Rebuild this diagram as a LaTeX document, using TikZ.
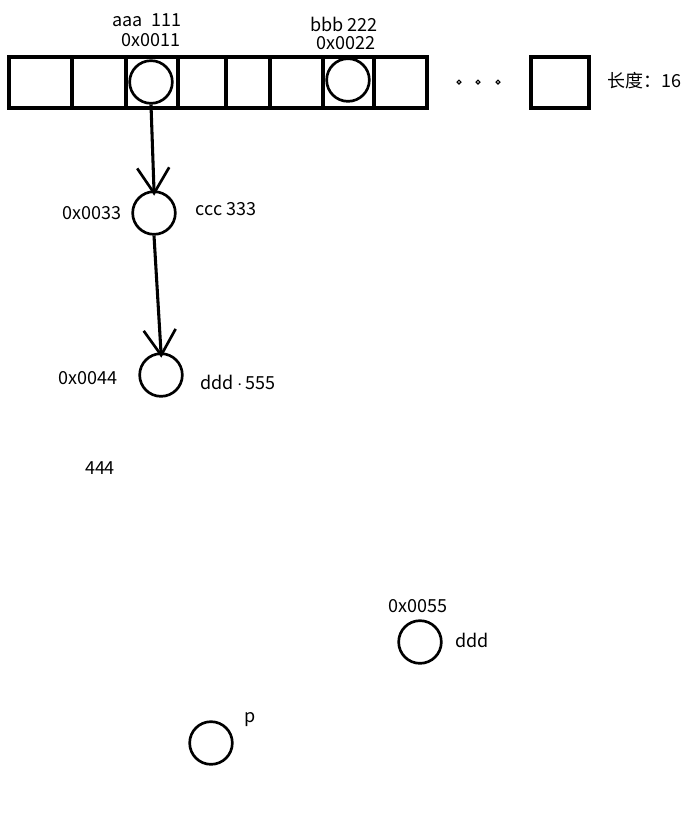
\documentclass[tikz,border=0pt]{standalone}
\usepackage{fontspec}
\setmainfont{Noto Sans CJK SC}
\usetikzlibrary{arrows.meta}
\begin{document}
\begin{tikzpicture}[x=0.75pt,y=-0.75pt,every node/.style={font=\fontsize{13.5}{15}\selectfont}]
\useasboundingbox (0,0) rectangle (698,819);
\tikzset{
  cell/.style={line width=2.5pt},
  slot/.style={circle,draw,line width=2pt,minimum size=32pt,inner sep=0pt},
  ptr/.style={line width=2.3pt,-{Straight Barb[length=19pt,width=24pt,line width=2pt]}}
}
% array
\begin{scope}
\draw[cell] (9,57) rectangle (427,108);
\foreach \xd in {72,126,178,226,270,323,374}
  \draw[cell] (\xd,57) -- (\xd,108);
\node[slot] (a) at (151,82) {};
\node[slot] (b) at (348,80) {};
\node at (147,20) {aaa\enspace111};
\node at (151,40) {0x0011};
\node at (344,24) {bbb 222};
\node at (346,43) {0x0022};
\foreach \xd in {459,478,498}
  \draw[line width=0.9pt] (\xd,82) circle (1.9);
\draw[cell] (531,57) rectangle (589,108);
\node[anchor=west] at (603,81) {长度：16};
\end{scope}
% linked nodes
\begin{scope}
\node[slot] (c) at (154,213) {};
\node[slot] (d) at (161,375) {};
\node at (92,213) {0x0033};
\node at (226,209) {ccc 333};
\node at (88,378) {0x0044};
\node at (238,382) {ddd\,$\cdot$\,555};
\node at (100,468) {444};
\draw[ptr,shorten >=-4pt] (a.south) -- (c.north);
\draw[ptr,shorten >=-4pt] (c.south) -- (d.north);
\end{scope}
% loose nodes
\begin{scope}
\node[slot] (e) at (420,642) {};
\node[slot] (p) at (211,743) {};
\node at (418,606) {0x0055};
\node at (472,640) {ddd};
\node at (250,720) {p};
\end{scope}
\end{tikzpicture}
\end{document}
